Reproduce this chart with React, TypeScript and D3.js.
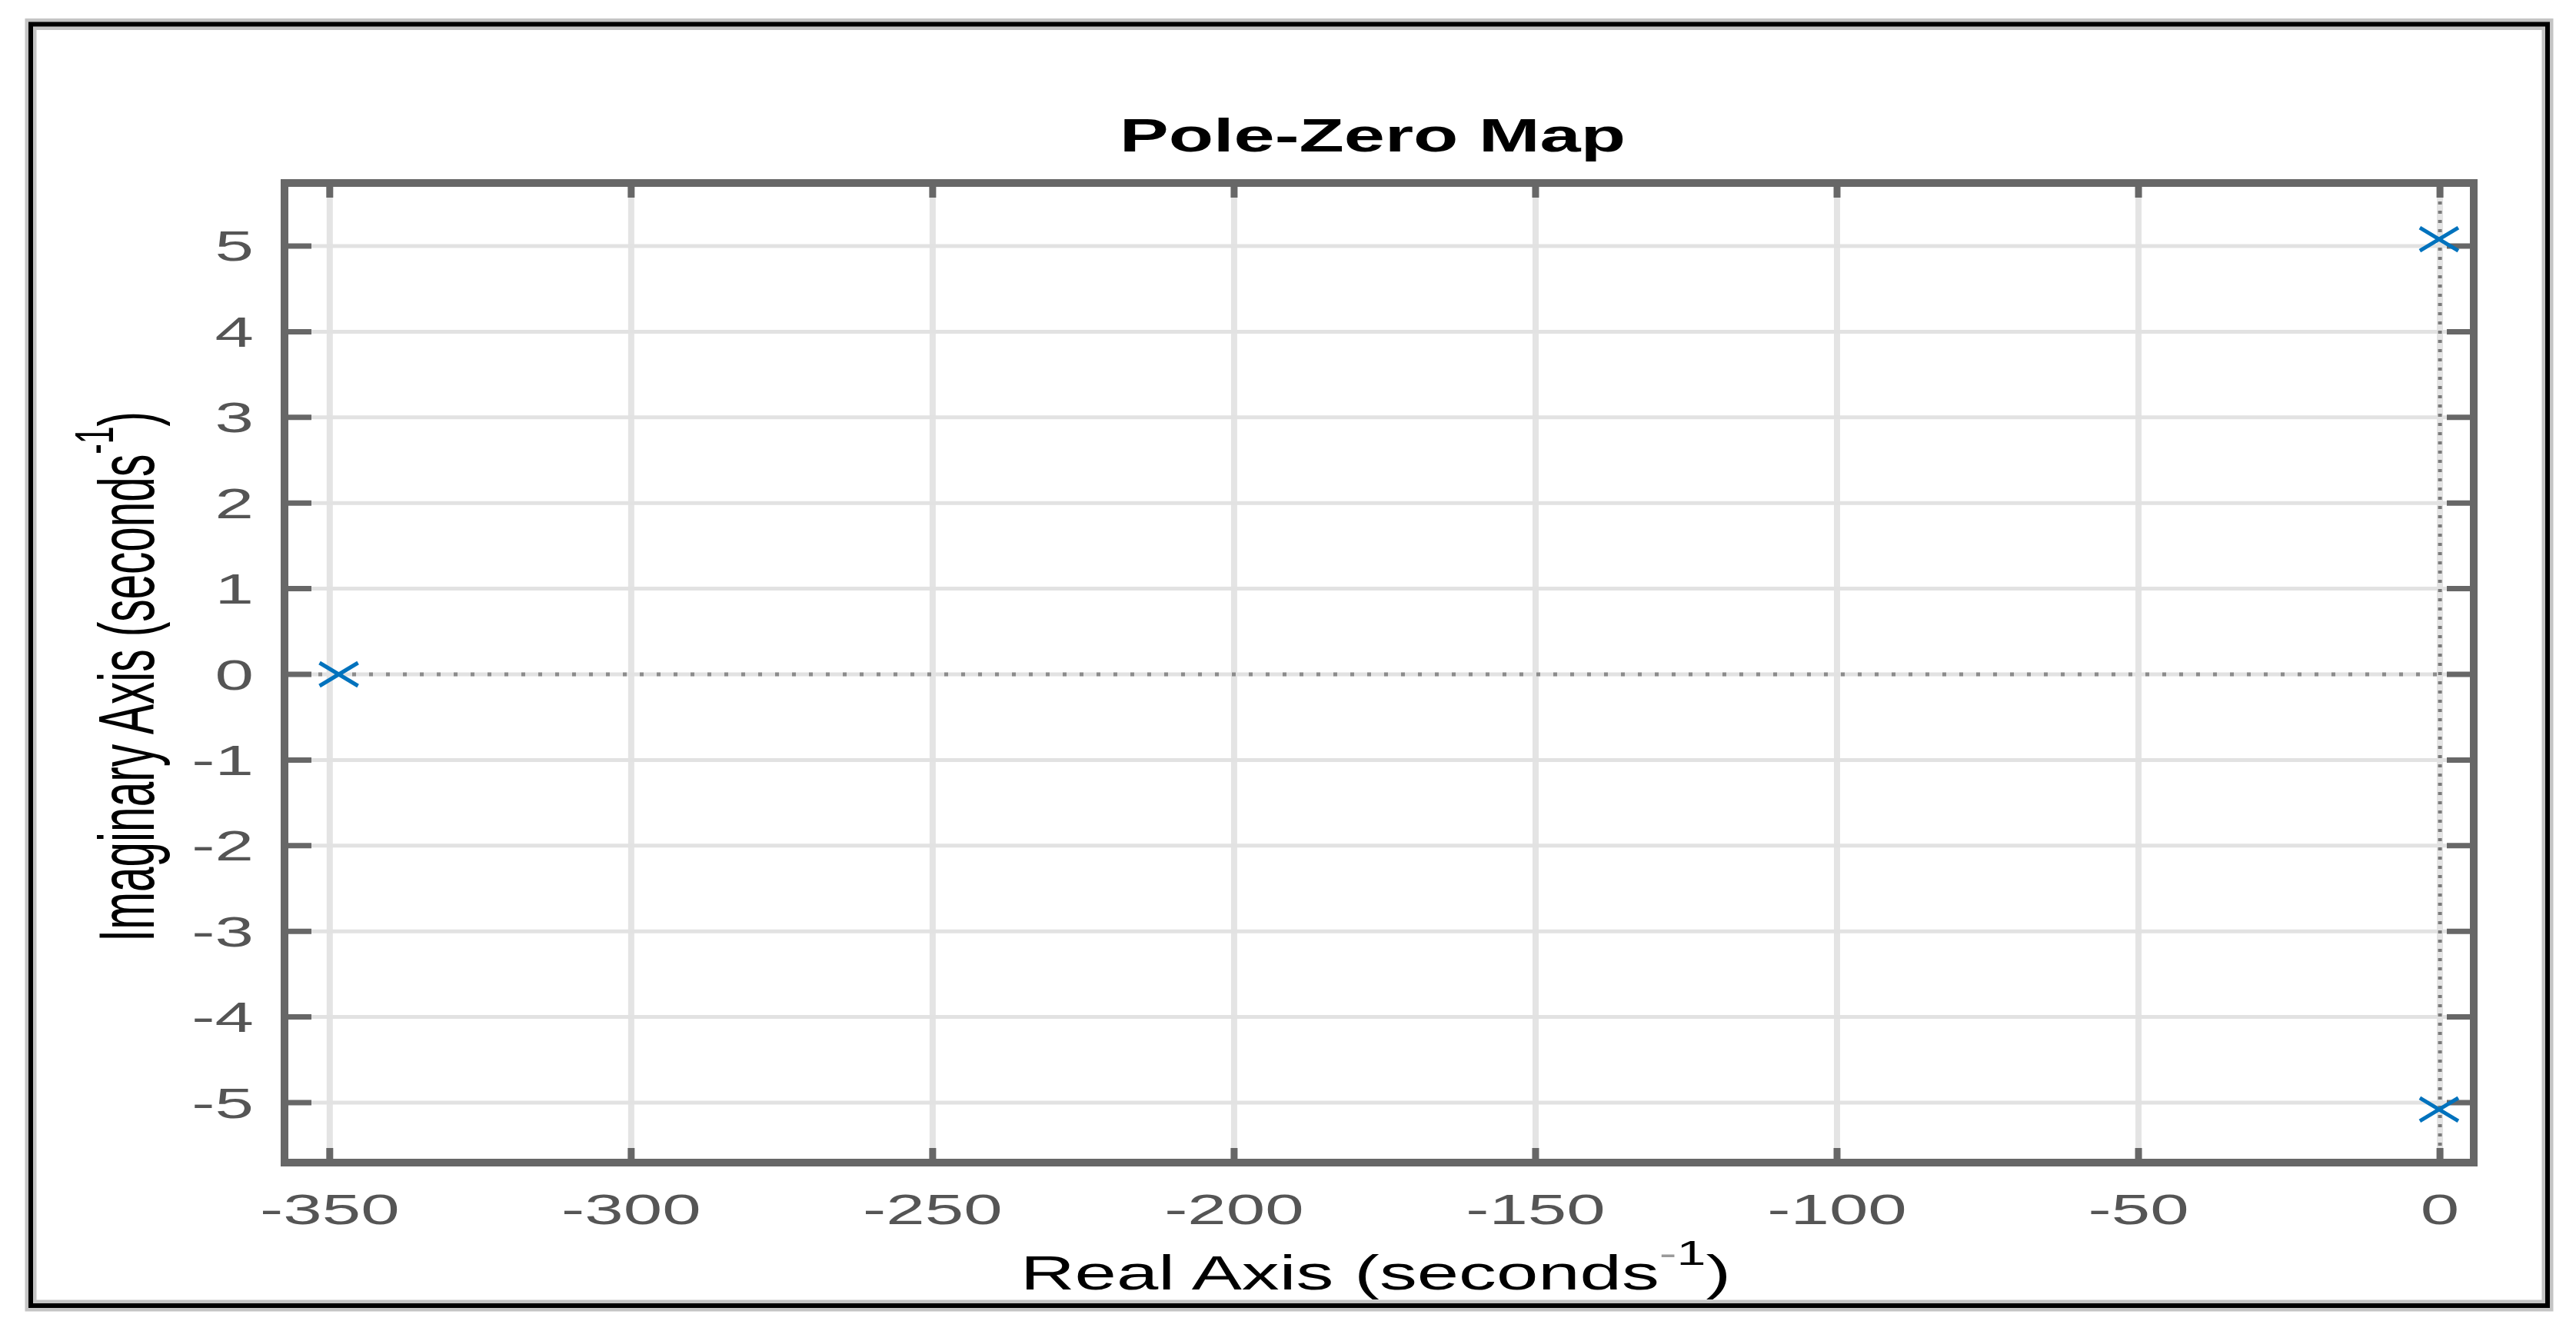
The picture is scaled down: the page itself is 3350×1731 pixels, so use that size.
import React from "react";
import * as d3 from "d3";

const xTicks = [-350, -300, -250, -200, -150, -100, -50, 0];
const yTicks = [-5, -4, -3, -2, -1, 0, 1, 2, 3, 4, 5];
const poleRe = [-348.5, -0.15, -0.15];
const poleIm = [0, 5.08, -5.08];
const title = "Pole-Zero Map";
const xLabel = "Real Axis (seconds";
const yLabel = "Imaginary Axis (seconds";

const W = 3350;
const H = 1731;
const FONT = "'Liberation Sans', Arial, Helvetica, sans-serif";

export default function App() {
  const box = { left: 370, right: 3217, top: 238, bottom: 1512 };
  const x = d3.scaleLinear().domain([-357.5, 5.6]).range([box.left, box.right]);
  const y = d3.scaleLinear().domain([-5.7, 5.736]).range([box.bottom, box.top]);
  const axisColor = "#676767";
  const tickColor = "#555555";
  const sx = 1.65;
  const mx = 25;
  const my = 15;

  return (
    <svg
      width={W}
      height={H}
      viewBox={`0 0 ${W} ${H}`}
      style={{ position: "absolute", left: 0, top: 0, background: "#fff" }}
    >
      <rect x={0} y={0} width={W} height={H} fill="#fff" />
      {/* outer frame */}
      <rect x={40} y={31.5} width={3313 - 40} height={1698 - 31.5} fill="none" stroke="#c4c4c4" strokeWidth={15} />
      <rect x={40} y={31.5} width={3313 - 40} height={1698 - 31.5} fill="none" stroke="#000" strokeWidth={6} />

      {/* grid */}
      <g>
        {xTicks.map((t) => (
          <line key={"gx" + t} x1={x(t)} x2={x(t)} y1={box.top} y2={box.bottom} stroke="#e4e4e4" strokeWidth={8} />
        ))}
        {yTicks.map((t) => (
          <line key={"gy" + t} x1={box.left} x2={box.right} y1={y(t)} y2={y(t)} stroke="#e2e2e2" strokeWidth={5} />
        ))}
      </g>

      {/* zero lines (dotted) */}
      <line x1={box.left} x2={box.right} y1={y(0)} y2={y(0)} stroke="#8c8c8c" strokeWidth={5} strokeDasharray="5 17" />
      <line x1={x(0)} x2={x(0)} y1={box.top} y2={box.bottom} stroke="#7a7a7a" strokeWidth={5} strokeDasharray="4 8" />

      {/* ticks */}
      <g stroke={axisColor}>
        {xTicks.map((t) => (
          <g key={"tx" + t}>
            <line x1={x(t)} x2={x(t)} y1={box.top} y2={box.top + 19} strokeWidth={9} />
            <line x1={x(t)} x2={x(t)} y1={box.bottom} y2={box.bottom - 19} strokeWidth={9} />
          </g>
        ))}
        {yTicks.map((t) => (
          <g key={"ty" + t}>
            <line x1={box.left} x2={box.left + 35} y1={y(t)} y2={y(t)} strokeWidth={7} />
            <line x1={box.right} x2={box.right - 35} y1={y(t)} y2={y(t)} strokeWidth={7} />
          </g>
        ))}
      </g>

      {/* axes box */}
      <rect
        x={box.left}
        y={box.top}
        width={box.right - box.left}
        height={box.bottom - box.top}
        fill="none"
        stroke={axisColor}
        strokeWidth={10}
      />

      {/* poles */}
      <g stroke="#0072BD" strokeWidth={5}>
        {poleRe.map((re, i) => {
          const cx = x(re);
          const cy = y(poleIm[i]);
          return (
            <g key={"p" + i}>
              <line x1={cx - mx} y1={cy - my} x2={cx + mx} y2={cy + my} />
              <line x1={cx - mx} y1={cy + my} x2={cx + mx} y2={cy - my} />
            </g>
          );
        })}
      </g>

      {/* x tick labels */}
      <g fill={tickColor} fontFamily={FONT} fontSize={55}>
        {xTicks.map((t) => (
          <text key={"lx" + t} transform={`translate(${x(t)},1592) scale(${sx},1)`} textAnchor="middle">
            {String(t)}
          </text>
        ))}
        {yTicks.map((t) => (
          <text key={"ly" + t} transform={`translate(330,${y(t) + 19.5}) scale(${sx},1)`} textAnchor="end">
            {String(t)}
          </text>
        ))}
      </g>

      {/* title */}
      <text
        x={1785}
        y={197}
        textAnchor="middle"
        fontFamily={FONT}
        fontWeight="bold"
        fontSize={61}
        fill="#000"
        textLength={658}
        lengthAdjust="spacingAndGlyphs"
      >
        {title}
      </text>

      {/* x label */}
      <text
        x={1789}
        y={1677}
        textAnchor="middle"
        fontFamily={FONT}
        fontSize={63}
        fill="#000"
        textLength={924}
        lengthAdjust="spacingAndGlyphs"
      >
        {xLabel}
        <tspan dy={-32} fontSize={44} fill="#9a9a9a">-</tspan>
        <tspan fontSize={44}>1</tspan>
        <tspan dy={32}>)</tspan>
      </text>

      {/* y label */}
      <g transform={`translate(200,880) scale(1.62,1) rotate(-90)`}>
        <text
          x={0}
          y={0}
          textAnchor="middle"
          fontFamily={FONT}
          fontSize={63}
          fill="#000"
          textLength={690}
          lengthAdjust="spacingAndGlyphs"
        >
          {yLabel}
          <tspan dy={-33} fontSize={44}>-</tspan>
          <tspan fontSize={44}>1</tspan>
          <tspan dy={33}>)</tspan>
        </text>
      </g>
    </svg>
  );
}
